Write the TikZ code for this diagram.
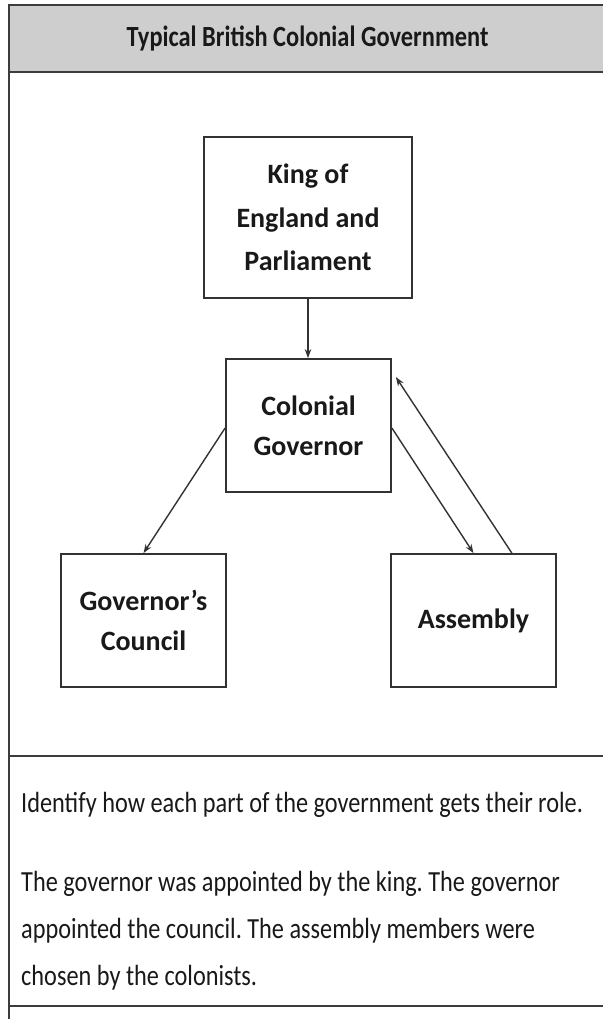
\documentclass[tikz,border=0pt]{standalone}
\usepackage{graphicx}
\usepackage{fontspec}
\setmainfont{Carlito}
\usetikzlibrary{arrows.meta,calc}
\definecolor{headgray}{RGB}{206,206,206}
\definecolor{framegray}{RGB}{60,60,60}
\definecolor{boxgray}{RGB}{50,50,50}
\definecolor{textblack}{RGB}{25,25,25}
\newcommand{\tall}[1]{\scalebox{1}[1.2]{#1}}
\frenchspacing
\begin{document}
\begin{tikzpicture}[x=1pt,y=-1pt,
  frame/.style={draw=framegray,line width=2.4pt},
  box/.style={draw=boxgray,line width=1.8pt,fill=white,align=center,inner sep=0pt,text=textblack},
  boxfont/.style={font=\bfseries\fontsize{28}{40}\selectfont},
  conn/.style={draw=boxgray,line width=1.4pt,-{Stealth[length=9pt,width=6.5pt]}},
  bodytext/.style={anchor=base west,inner sep=0pt,text=textblack,font=\fontsize{24.3}{29}\selectfont}
]
\path[use as bounding box] (0,0) rectangle (603,1019);
% header and frame
\fill[headgray] (9,5) rectangle (603,72);
\draw[frame] (9,5) -- (603,5);
\draw[frame] (9,72) -- (603,72);
\draw[frame] (9,756) -- (603,756);
\draw[frame] (9,1006) -- (603,1006);
\draw[frame] (9,3.8) -- (9,1019);
\node[font=\bfseries\fontsize{24.4}{29}\selectfont,text=textblack] (title) at (307.5,39) {\tall{Typical British Colonial Government}};
% boxes
\node[box,font=\bfseries\fontsize{28}{43.5}\selectfont,minimum width=208pt,minimum height=161pt] (king) at (308,217.5) {King of\\England and\\Parliament};
\node[box,boxfont,minimum width=165pt,minimum height=133pt] (gov) at (308.5,425.5) {Colonial\\Governor};
\node[box,boxfont,minimum width=165pt,minimum height=133pt] (council) at (143.5,620.5) {Governor’s\\Council};
\node[box,boxfont,minimum width=165pt,minimum height=133pt] (asm) at (473.5,620.5) {Assembly};
% connectors
\draw[conn] (king.south) -- (king.south |- gov.north);
\draw[conn] ($(gov.west)+(0,2.5)$) -- (council.north);
\draw[conn] ($(gov.east)+(0,2.5)$) -- (asm.north);
\coordinate (asmtop) at ($(asm.north west)!0.73!(asm.north east)$);
\coordinate (govin) at ($(gov.north east)+(4,19)$);
\draw[conn] (asmtop) -- (govin);
% body text
\node[bodytext] (q) at (21,812) {\tall{Identify how each part of the government gets their role.}};
\node[bodytext] (a1) at (21,891) {\tall{The governor was appointed by the king. The governor}};
\node[bodytext] (a2) at (21,938) {\tall{appointed the council. The assembly members were}};
\node[bodytext] (a3) at (21,985) {\tall{chosen by the colonists.}};
\end{tikzpicture}
\end{document}
